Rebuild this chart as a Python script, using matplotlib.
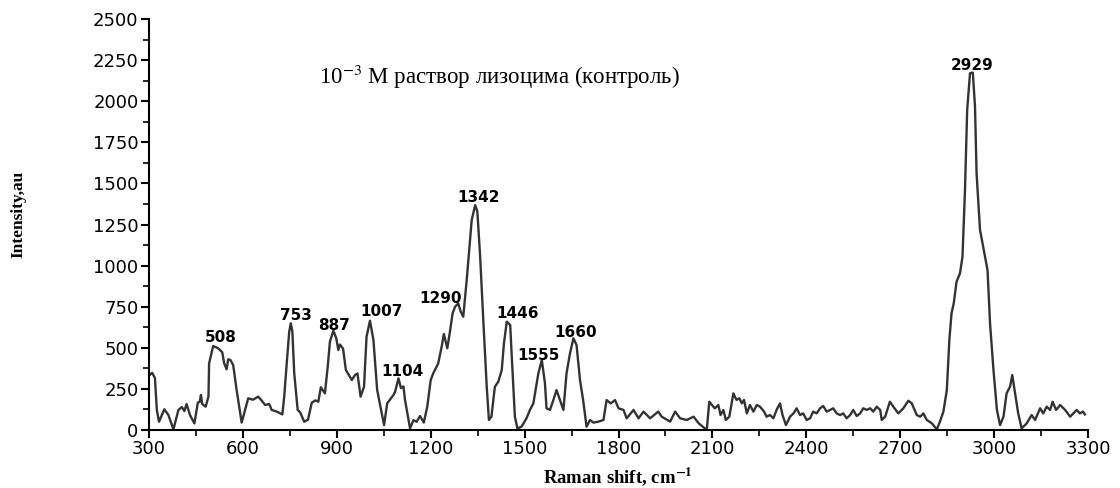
import matplotlib
matplotlib.use("Agg")
import matplotlib.pyplot as plt
from matplotlib.ticker import MultipleLocator

# spectrum (Raman shift, intensity)
shift = [300, 310, 319, 325, 332, 349, 362, 378, 394, 405, 413, 420, 431, 445, 456, 462, 466, 470,
         481, 490, 492, 505, 521, 534, 540, 548, 553, 560, 569, 580, 596, 607, 617, 632, 649, 660,
         671, 684, 692, 708, 726, 732, 740, 748, 753, 758, 764, 775, 783, 796, 808, 820, 831, 841,
         849, 862, 871, 878, 889, 898, 905, 910, 920, 929, 948, 958, 966, 976, 987, 995, 1006, 1017,
         1029, 1051, 1061, 1081, 1086, 1097, 1105, 1113, 1118, 1134, 1145, 1155, 1166, 1178, 1189,
         1200, 1208, 1224, 1235, 1242, 1253, 1261, 1270, 1278, 1288, 1296, 1304, 1315, 1331, 1342,
         1349, 1358, 1368, 1379, 1386, 1394, 1405, 1416, 1427, 1434, 1443, 1454, 1459, 1469, 1477,
         1490, 1506, 1517, 1528, 1544, 1555, 1565, 1570, 1581, 1592, 1602, 1613, 1624, 1634, 1645,
         1656, 1666, 1677, 1687, 1698, 1709, 1720, 1736, 1752, 1762, 1775, 1789, 1800, 1816, 1826,
         1848, 1864, 1880, 1901, 1927, 1938, 1965, 1981, 1997, 2018, 2040, 2056, 2076, 2082, 2090,
         2103, 2108, 2119, 2126, 2135, 2143, 2154, 2167, 2177, 2186, 2194, 2201, 2210, 2220, 2231,
         2242, 2252, 2265, 2273, 2284, 2295, 2305, 2316, 2324, 2335, 2348, 2359, 2369, 2380, 2390,
         2401, 2412, 2422, 2433, 2444, 2454, 2465, 2476, 2486, 2497, 2508, 2518, 2529, 2540, 2550,
         2561, 2572, 2582, 2593, 2604, 2614, 2625, 2636, 2641, 2652, 2667, 2678, 2694, 2710, 2726,
         2737, 2753, 2764, 2774, 2785, 2801, 2817, 2827, 2838, 2849, 2857, 2864, 2871, 2880, 2891,
         2899, 2907, 2914, 2923, 2932, 2939, 2944, 2955, 2971, 2979, 2987, 2998, 3009, 3019, 3030,
         3040, 3051, 3058, 3067, 3077, 3088, 3104, 3120, 3131, 3147, 3157, 3168, 3179, 3187, 3198,
         3211, 3227, 3243, 3253, 3264, 3274, 3284, 3290]
intensity = [330, 348, 316, 122, 50, 126, 91, 4, 122, 140, 115, 158, 91, 40, 166, 172, 213, 158,
             142, 203, 405, 511, 497, 473, 407, 369, 430, 426, 395, 243, 45, 122, 193, 184, 203, 179,
             152, 158, 122, 112, 95, 203, 405, 598, 649, 600, 345, 122, 107, 50, 63, 166, 180, 172,
             260, 223, 385, 537, 604, 560, 487, 520, 495, 365, 304, 334, 344, 203, 263, 567, 665, 548,
             243, 30, 162, 213, 231, 314, 255, 265, 182, 10, 60, 50, 85, 45, 142,
             304, 344, 405, 507, 584, 497, 592, 710, 750, 770, 720, 689, 912, 1277, 1368,
             1330, 1054, 669, 263, 61, 81, 263, 294, 365, 527, 659, 639, 446, 81, 10,
             20, 71, 122, 162, 345, 426, 284, 132, 122, 183, 243, 183, 122, 345, 466,
             558, 517, 304, 182, 20, 61, 45, 51, 61, 182, 162, 182, 132, 122, 71,
             122, 71, 112, 71, 112, 81, 51, 112, 71, 61, 81, 41, 10, 0, 172,
             142, 132, 152, 91, 122, 61, 81, 223, 183, 193, 162, 183, 101, 152, 112,
             152, 142, 112, 81, 91, 71, 122, 162, 91, 30, 81, 101, 132, 91, 101,
             61, 71, 112, 101, 132, 146, 112, 122, 132, 101, 91, 101, 71, 91, 122,
             85, 101, 132, 122, 132, 112, 142, 122, 61, 81, 172, 142, 101, 132, 178,
             162, 91, 81, 101, 61, 41, 4, 51, 112, 243, 547, 710, 770, 902, 953,
             1054, 1460, 1947, 2170, 2174, 1967, 1561, 1217, 1054, 973, 649, 365, 122, 30, 81,
             223, 264, 334, 223, 101, 10, 40, 91, 61, 132, 101, 142, 122, 172, 122,
             152, 122, 81, 101, 122, 101, 112, 95]

# peak labels: text, x, y
peak_text = ["508", "753", "887", "1007", "1104", "1290", "1342", "1446", "1555", "1660", "2929"]
peak_x = [530, 768, 891, 1043, 1111, 1233, 1354, 1476, 1543, 1663, 2929]
peak_y = [562, 699, 638, 718, 353, 797, 1417, 711, 456, 596, 2220]

plt.rcParams['mathtext.fontset'] = 'stix'

fig = plt.figure(figsize=(11.2, 4.88), dpi=100)
ax = fig.add_axes([149 / 1120, 58 / 488, 939 / 1120, 411 / 488])

ax.plot(shift, intensity, color='#333333', lw=1.7)

for t, px, py in zip(peak_text, peak_x, peak_y):
    ax.text(px, py, t, ha='center', va='center', fontsize=11, fontweight='bold',
            family='DejaVu Sans', color='black')

ax.text(1418, 2150, "10$^{-3}$ M раствор лизоцима (контроль)", ha='center', va='center',
        fontsize=16.5, family='Liberation Serif')

ax.set_xlim(300, 3300)
ax.set_ylim(0, 2500)
ax.xaxis.set_major_locator(MultipleLocator(300))
ax.xaxis.set_minor_locator(MultipleLocator(150))
ax.yaxis.set_major_locator(MultipleLocator(250))
ax.yaxis.set_minor_locator(MultipleLocator(125))
ax.spines['top'].set_visible(False)
ax.spines['right'].set_visible(False)
for s in ['left', 'bottom']:
    ax.spines[s].set_linewidth(1.5)
ax.tick_params(which='major', direction='out', length=6, width=1.5, labelsize=13, pad=1.5)
ax.tick_params(which='minor', direction='out', length=4, width=1.2)
for lab in ax.get_xticklabels() + ax.get_yticklabels():
    lab.set_family('DejaVu Sans')

fig.text(618 / 1120, 1 - 477 / 488, r"Raman shift, cm$^{\mathbf{-1}}$", ha='center', va='center',
         fontsize=13.5, fontweight='bold', family='Liberation Serif')
fig.text(18 / 1120, 1 - 214 / 488, "Intensity,au", rotation=90, ha='center', va='center',
         fontsize=12.5, fontweight='bold', family='Liberation Serif')

fig.savefig('out.png', dpi=100)
